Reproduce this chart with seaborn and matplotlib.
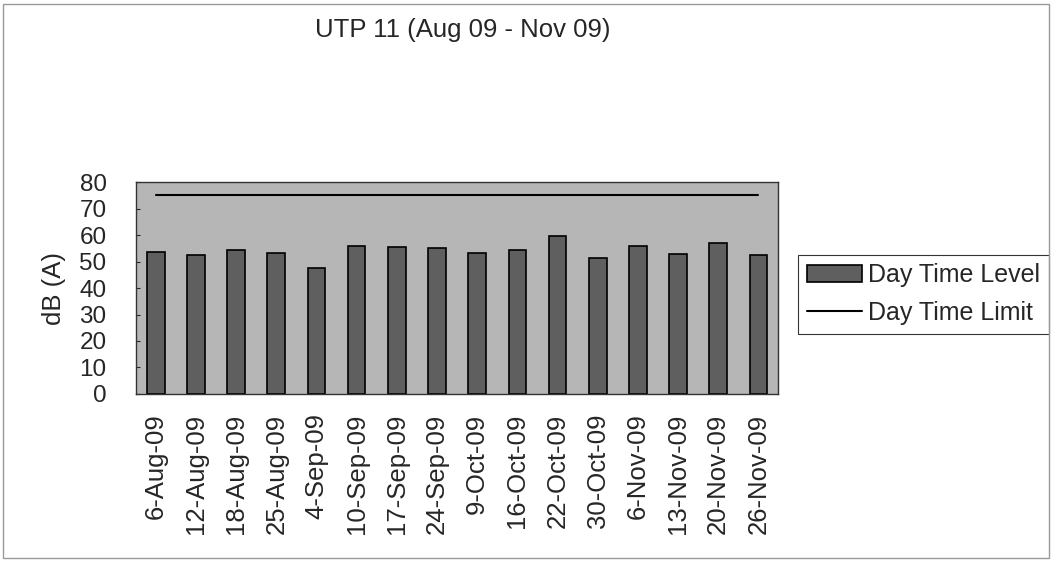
import matplotlib
matplotlib.use("Agg")
import matplotlib.pyplot as plt
import seaborn as sns
import pandas as pd
from matplotlib.patches import Rectangle

dates = ["6-Aug-09", "12-Aug-09", "18-Aug-09", "25-Aug-09", "4-Sep-09", "10-Sep-09",
         "17-Sep-09", "24-Sep-09", "9-Oct-09", "16-Oct-09", "22-Oct-09", "30-Oct-09",
         "6-Nov-09", "13-Nov-09", "20-Nov-09", "26-Nov-09"]
day_level = [53.5, 52.4, 54.4, 53.2, 47.7, 55.8, 55.6, 55.1, 53.2, 54.2, 59.6, 51.5,
             55.9, 53.0, 57.0, 52.3]
day_limit = [75] * len(dates)

df = pd.DataFrame({"Date": dates, "Level": day_level, "Limit": day_limit})

sns.set_style("white")
plt.rcParams["font.family"] = ["Liberation Sans", "DejaVu Sans"]

fig = plt.figure(figsize=(10.52, 5.62), dpi=100)
ax = fig.add_axes([0.129, 0.299, 0.611, 0.377])
ax.set_facecolor("#b6b6b6")

sns.barplot(data=df, x="Date", y="Level", color="#5f5f5f", edgecolor="black",
            linewidth=1.2, width=0.44, saturation=1, ax=ax, label="Day Time Level")
ax.plot(range(len(dates)), df["Limit"], color="black", linewidth=1.5, label="Day Time Limit")

ax.set_xlim(-0.5, len(dates) - 0.5)
ax.set_ylim(0, 80)
ax.set_yticks(range(0, 81, 10))
ax.tick_params(axis="y", labelsize=17.5, direction="in", length=3, left=True, pad=21)
ax.tick_params(axis="x", labelsize=18.5, rotation=90, length=0, pad=14)
ax.set_xlabel("")
ax.set_ylabel("dB (A)", fontsize=18.5, labelpad=10)
for s in ax.spines.values():
    s.set_color("#333333")
    s.set_linewidth(1)

fig.text(0.44, 0.947, "UTP 11 (Aug 09 - Nov 09)", fontsize=18.5, ha="center", va="center")

# bar entry first, then the limit line
handles, labels = ax.get_legend_handles_labels()
order = [labels.index("Day Time Level"), labels.index("Day Time Limit")]
leg = ax.legend([handles[i] for i in order], [labels[i] for i in order],
                loc="upper left", bbox_to_anchor=(0.759, 0.547), bbox_transform=fig.transFigure,
                borderaxespad=0, fontsize=18, frameon=True, fancybox=False, edgecolor="black",
                handlelength=2.2, borderpad=0.35, labelspacing=0.55, handletextpad=0.25)
leg.get_frame().set_linewidth(0.8)

fig.patches.append(Rectangle((0.003, 0.008), 0.994, 0.985, transform=fig.transFigure,
                             fill=False, edgecolor="#999999", linewidth=1))

fig.savefig("out.png", dpi=100)
